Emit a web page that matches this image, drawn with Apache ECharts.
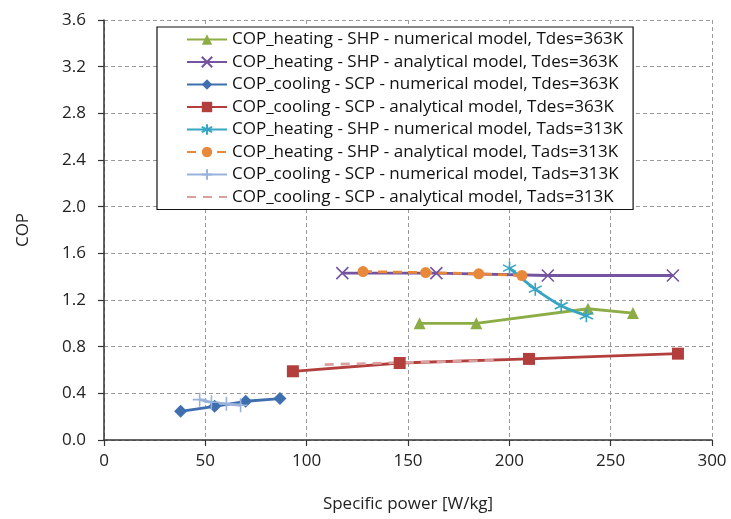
<!DOCTYPE html>
<html>
<head>
<meta charset="utf-8">
<script src="https://cdn.jsdelivr.net/npm/echarts@6/dist/echarts.min.js"></script>
<style>html,body{margin:0;padding:0;background:#fff}#c{width:731px;height:519px}</style>
</head>
<body>
<div id="c"></div>
<script>
var seriesNames = [
  'COP_heating - SHP - numerical model, Tdes=363K',
  'COP_heating - SHP - analytical model, Tdes=363K',
  'COP_cooling - SCP - numerical model, Tdes=363K',
  'COP_cooling - SCP - analytical model, Tdes=363K',
  'COP_heating - SHP - numerical model, Tads=313K',
  'COP_heating - SHP - analytical model, Tads=313K',
  'COP_cooling - SCP - numerical model, Tads=313K',
  'COP_cooling - SCP - analytical model, Tads=313K'
];
var shpNumTdes = [[155.7, 1.00], [183.7, 1.00], [238.8, 1.125], [261.0, 1.088]];
var shpAnaTdes = [[117.6, 1.43], [164.0, 1.43], [219.0, 1.41], [280.7, 1.41]];
var scpNumTdes = [[37.8, 0.246], [54.6, 0.289], [69.9, 0.332], [86.8, 0.355]];
var scpAnaTdes = [[93.2, 0.589], [145.9, 0.66], [209.7, 0.695], [283.2, 0.74]];
var shpNumTads = [[200.1, 1.473], [212.8, 1.293], [225.6, 1.151], [238.0, 1.065]];
var shpAnaTads = [[127.8, 1.444], [158.7, 1.435], [184.9, 1.424], [206.2, 1.41]];
var scpNumTads = [[47.2, 0.346], [53.0, 0.323], [60.4, 0.31], [67.4, 0.298]];
var scpAnaTads = [[108.9, 0.646], [150.0, 0.665], [195.2, 0.683]];
var xTicks = [0, 50, 100, 150, 200, 250, 300];
var yTicks = [0.0, 0.4, 0.8, 1.2, 1.6, 2.0, 2.4, 2.8, 3.2, 3.6];

var colors = ['#8cad45', '#7453a0', '#3f6fae', '#b23f3c', '#35a5c2', '#e8883a', '#98b2dc', '#d9a0a0'];
var xPath = 'path://M0,0L10,10M10,0L0,10';
var starPath = 'path://M5,0L5,10M0.7,2.5L9.3,7.5M0.7,7.5L9.3,2.5';
var plusPath = 'path://M5,0L5,10M0,5L10,5';

function mk(i, data, symbol, size, opts) {
  opts = opts || {};
  return {
    name: seriesNames[i], type: 'line', data: data,
    symbol: symbol, symbolSize: size, showSymbol: symbol !== 'none',
    smooth: opts.smooth || false,
    lineStyle: { color: colors[i], width: 2.8, type: opts.dash || 'solid' },
    itemStyle: { color: colors[i], borderColor: colors[i], borderWidth: opts.stroke ? 1.6 : 0 },
    emphasis: { disabled: true },
    animation: false
  };
}

var legendData = seriesNames.map(function (n, i) {
  return i === 7 ? { name: n, itemStyle: { opacity: 0 } } : { name: n };
});

var chart = echarts.init(document.getElementById('c'), null, { renderer: 'canvas' });
var ff = '"Open Sans", sans-serif';
chart.setOption({
  animation: false,
  textStyle: { fontFamily: ff },
  grid: { left: 104, right: 19, top: 20, bottom: 79, containLabel: false },
  xAxis: {
    type: 'value', min: xTicks[0], max: xTicks[xTicks.length - 1], interval: 50,
    name: 'Specific power [W/kg]', nameLocation: 'middle', nameGap: 56,
    nameTextStyle: { fontFamily: ff, fontSize: 17, color: '#222' },
    axisLine: { show: true, onZero: false, lineStyle: { color: '#333', width: 1.5 } },
    axisTick: { show: true, length: 6, lineStyle: { color: '#333', width: 1.2 } },
    axisLabel: { fontFamily: ff, fontSize: 17, color: '#222', margin: 13 },
    splitLine: { show: true, lineStyle: { color: '#9a9a9a', type: [4, 3], width: 1 } }
  },
  yAxis: {
    type: 'value', min: yTicks[0], max: yTicks[yTicks.length - 1], interval: 0.4,
    name: 'COP', nameLocation: 'middle', nameGap: 72, nameRotate: 90,
    nameTextStyle: { fontFamily: ff, fontSize: 17, color: '#222' },
    axisLine: { show: true, onZero: false, lineStyle: { color: '#333', width: 1.5 } },
    axisTick: { show: true, length: 6, lineStyle: { color: '#333', width: 1.2 } },
    axisLabel: { fontFamily: ff, fontSize: 17, color: '#222', margin: 18,
      formatter: function (v) { return v.toFixed(1); } },
    splitLine: { show: true, lineStyle: { color: '#9a9a9a', type: [4, 3], width: 1 } }
  },
  legend: {
    orient: 'vertical', left: 157, top: 27,
    padding: [4, 10, 4, 29], itemGap: 5.5, itemWidth: 40, itemHeight: 13,
    backgroundColor: '#fff', borderColor: '#111', borderWidth: 1.2, borderRadius: 0,
    textStyle: { fontFamily: ff, fontSize: 17, color: '#111', lineHeight: 16 },
    data: legendData, selectedMode: false
  },
  series: [
    mk(0, shpNumTdes, 'triangle', 12),
    mk(1, shpAnaTdes, xPath, 12, { stroke: true }),
    mk(2, scpNumTdes, 'diamond', 13),
    mk(3, scpAnaTdes, 'rect', 12),
    mk(4, shpNumTads, starPath, 13, { stroke: true, smooth: 0.3 }),
    mk(5, shpAnaTads, 'circle', 11, { dash: [9, 6] }),
    mk(6, scpNumTads, plusPath, 14, { stroke: true }),
    mk(7, scpAnaTads, 'none', 0, { dash: [9, 7] })
  ]
});
</script>
</body>
</html>
